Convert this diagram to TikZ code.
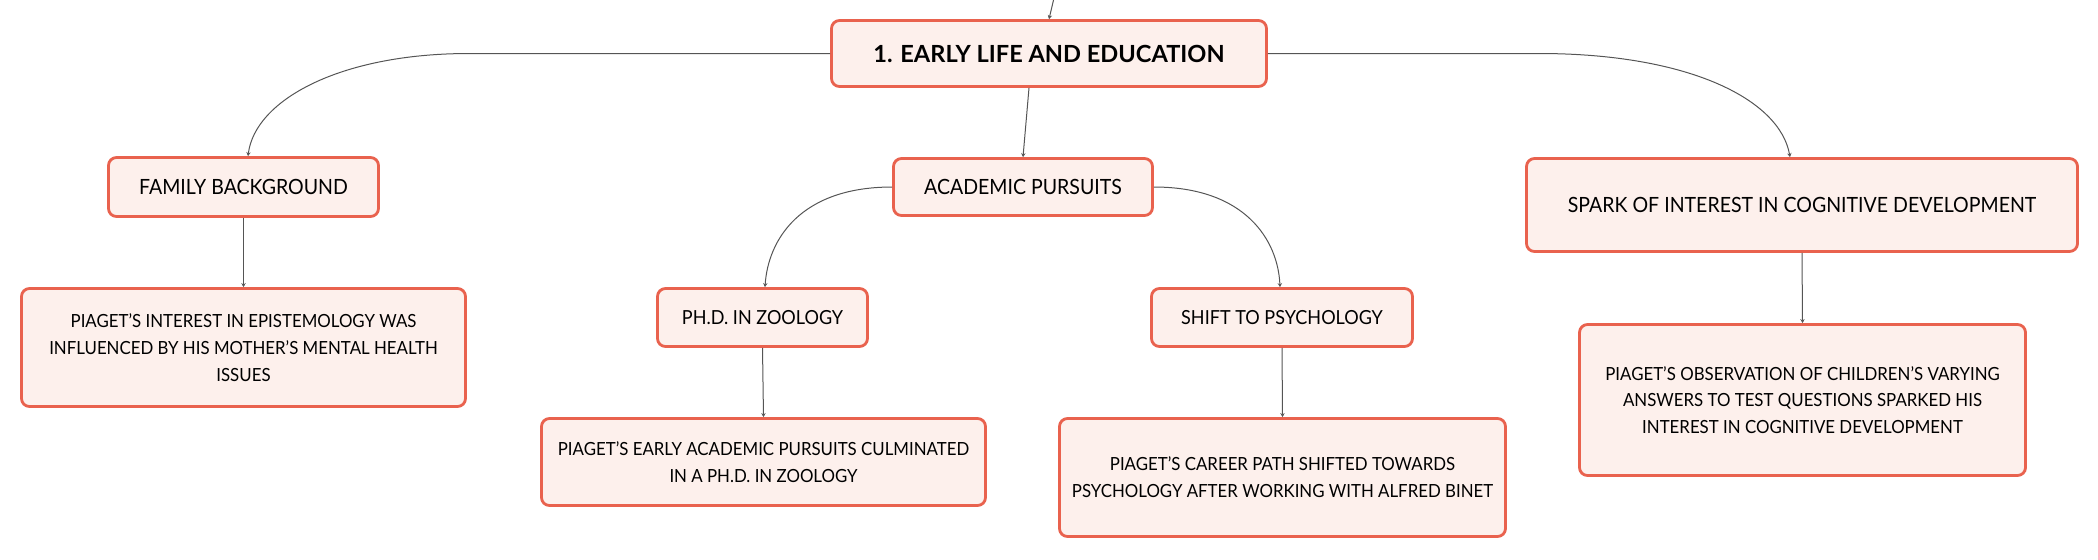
\documentclass[tikz,border=0pt]{standalone}
\usepackage{fontspec}
\setmainfont{Lato}
\newfontfamily\bodyfont[FakeStretch=0.93]{Lato}
\usetikzlibrary{arrows.meta}
\definecolor{boxborder}{HTML}{E9624E}
\definecolor{boxfill}{HTML}{FDF0EC}
\definecolor{linkgray}{HTML}{555555}
\tikzset{
  box/.style={draw=boxborder, fill=boxfill, line width=1.4pt, rounded corners=4pt,
    align=center, inner sep=0pt, font=\bodyfont\fontsize{9.05}{13.4}\selectfont},
  subbox/.style={box, font=\bodyfont\fontsize{10.5}{13.5}\selectfont},
  topicbox/.style={box, font=\bodyfont\fontsize{9.7}{13.5}\selectfont},
  titlebox/.style={box, font=\rmfamily\fontsize{11.8}{14}\selectfont\bfseries},
  link/.style={draw=linkgray, line width=0.5pt, -{Stealth[length=2pt,width=2.2pt]}},
}
\begin{document}
\begin{tikzpicture}[x=0.5pt,y=-0.5pt]
\useasboundingbox (0,0) rectangle (2098,559);
\node[titlebox, minimum width=217.5pt, minimum height=33pt] (main) at (1049,53.5) {1. EARLY LIFE AND EDUCATION};
\node[subbox, minimum width=135pt, minimum height=29.5pt] (fam) at (243.5,187) {FAMILY BACKGROUND};
\node[subbox, minimum width=129.5pt, minimum height=28.5pt] (acad) at (1023,187) {ACADEMIC PURSUITS};
\node[subbox, minimum width=275.5pt, minimum height=46.5pt] (spark) at (1802,205) {SPARK OF INTEREST IN COGNITIVE DEVELOPMENT};
\node[box, minimum width=222pt, minimum height=59pt] (interest) at (243.5,347.5) {PIAGET’S INTEREST IN EPISTEMOLOGY WAS\\INFLUENCED BY HIS MOTHER’S MENTAL HEALTH\\ISSUES};
\node[topicbox, minimum width=105pt, minimum height=29pt] (phd) at (762.5,317.5) {PH.D. IN ZOOLOGY};
\node[topicbox, minimum width=130.5pt, minimum height=29pt] (shift) at (1282,317.5) {SHIFT TO PSYCHOLOGY};
\node[box, minimum width=222pt, minimum height=43.5pt] (early) at (763.5,462) {PIAGET’S EARLY ACADEMIC PURSUITS CULMINATED\\IN A PH.D. IN ZOOLOGY};
\node[box, minimum width=223pt, minimum height=59pt] (career) at (1282.5,477.5) {PIAGET’S CAREER PATH SHIFTED TOWARDS\\PSYCHOLOGY AFTER WORKING WITH ALFRED BINET};
\node[box, minimum width=223pt, minimum height=75.5pt] (obs) at (1802.5,400) {PIAGET’S OBSERVATION OF CHILDREN’S VARYING\\ANSWERS TO TEST QUESTIONS SPARKED HIS\\INTEREST IN COGNITIVE DEVELOPMENT};
\coordinate (top) at (1054,-2);
\draw[link] (top) -- (main.north);
\draw[link] (main.west) -- (469,53.5) .. controls (340,53.5) and (255,100) .. ([xshift=2.25pt]fam.north);
\draw[link] (main.east) -- (1539,53.5) .. controls (1690,53.5) and (1780,100) .. ([xshift=-6pt]spark.north);
\draw[link] ([xshift=-10pt]main.south) -- (acad.north);
\draw[link] (acad.west) .. controls (800,187) and (768,240) .. ([xshift=1.25pt]phd.north);
\draw[link] (acad.east) .. controls (1245,187) and (1278,240) .. ([xshift=-1pt]shift.north);
\draw[link] (fam.south) -- (interest.north);
\draw[link] (phd.south) -- (early.north);
\draw[link] (shift.south) -- (career.north);
\draw[link] (spark.south) -- (obs.north);
\end{tikzpicture}
\end{document}
